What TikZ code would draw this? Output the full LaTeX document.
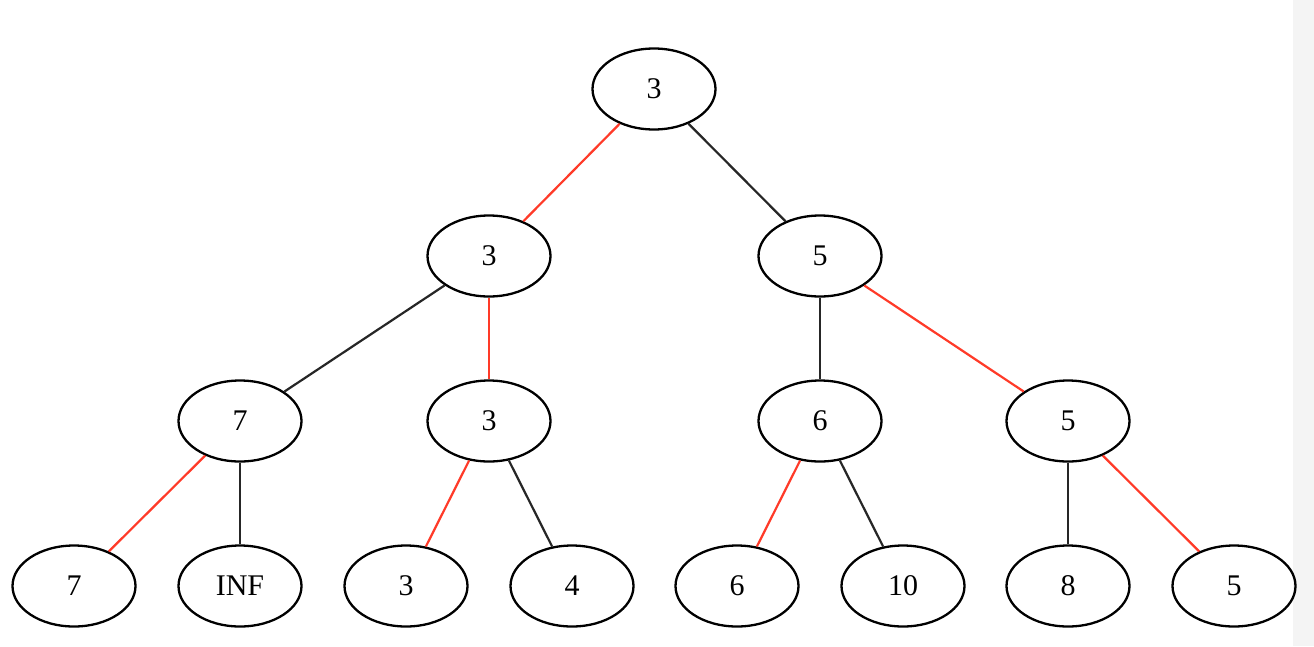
\documentclass[tikz,border=0pt]{standalone}
\usepackage{fontspec}
\setmainfont{Liberation Serif}
\usetikzlibrary{shapes.geometric}
\definecolor{edgered}{RGB}{255,58,40}
\definecolor{stripgray}{RGB}{244,244,244}
\newcommand{\nodefnt}{\fontsize{30}{34}\selectfont}
\tikzset{
  tnode/.style={draw=black, ellipse, line width=2.3pt, minimum width=123pt, minimum height=81pt, inner sep=0pt, font=\nodefnt},
  redge/.style={draw=edgered, line width=2.2pt},
  bedge/.style={draw=black!85, line width=2.2pt}
}
\begin{document}
\begin{tikzpicture}[x=1pt,y=-1pt]
\fill[white] (0,0) rectangle (1314,646);
\fill[stripgray] (1293,0) rectangle (1314,646);
\useasboundingbox (0,0) rectangle (1314,646);
\node[tnode] (r) at (654,89) {3};
\node[tnode] (a) at (489,256) {3};
\node[tnode] (b) at (820,256) {5};
\node[tnode] (a1) at (240,421) {7};
\node[tnode] (a2) at (489,421) {3};
\node[tnode] (b1) at (820,421) {6};
\node[tnode] (b2) at (1068,421) {5};
\node[tnode] (l1) at (74,586) {7};
\node[tnode] (l2) at (240,586) {INF};
\node[tnode] (l3) at (406,586) {3};
\node[tnode] (l4) at (572,586) {4};
\node[tnode] (l5) at (737,586) {6};
\node[tnode] (l6) at (903,586) {10};
\node[tnode] (l7) at (1068,586) {8};
\node[tnode] (l8) at (1234,586) {5};
\draw[redge] (r) -- (a);
\draw[bedge] (r) -- (b);
\draw[bedge] (a) -- (a1);
\draw[redge] (a) -- (a2);
\draw[bedge] (b) -- (b1);
\draw[redge] (b) -- (b2);
\draw[redge] (a1) -- (l1);
\draw[bedge] (a1) -- (l2);
\draw[redge] (a2) -- (l3);
\draw[bedge] (a2) -- (l4);
\draw[redge] (b1) -- (l5);
\draw[bedge] (b1) -- (l6);
\draw[bedge] (b2) -- (l7);
\draw[redge] (b2) -- (l8);
\end{tikzpicture}
\end{document}
